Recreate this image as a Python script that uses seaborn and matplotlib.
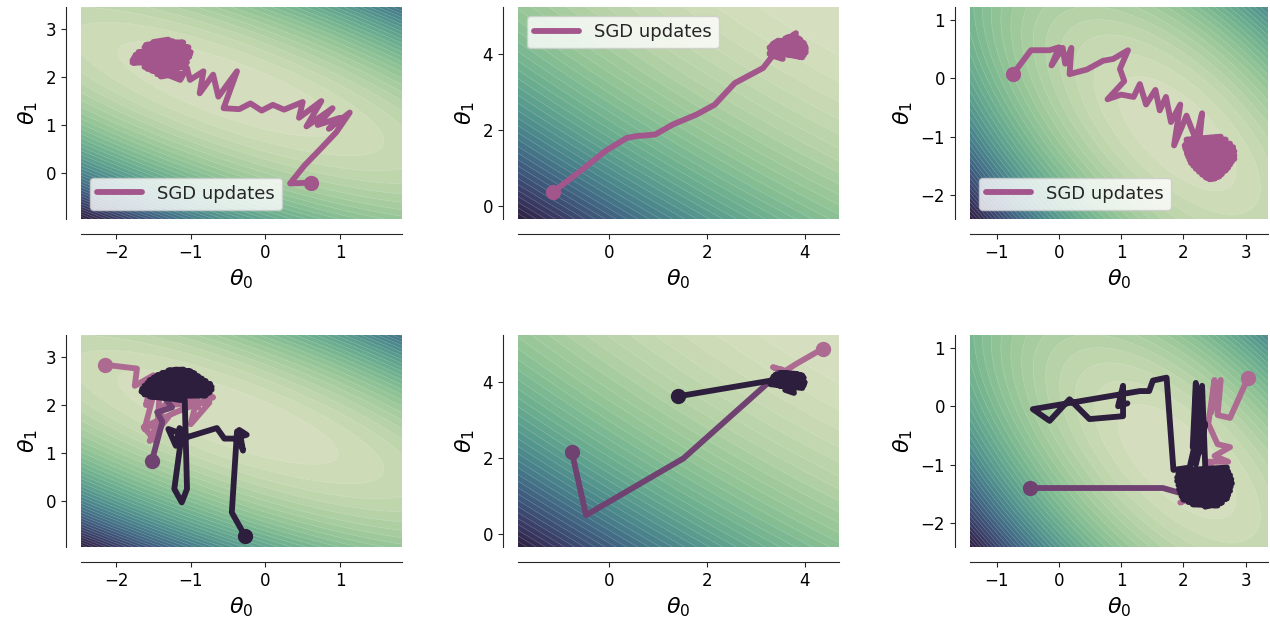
import numpy as np
import matplotlib
matplotlib.use("Agg")
import matplotlib.pyplot as plt
from matplotlib.colors import PowerNorm
import seaborn as sns

sns.set_style("ticks")

# axis ranges of each column (theta0, theta1)
xlims = [(-2.47, 1.83), (-1.86, 4.70), (-1.43, 3.36)]
ylims = [(-0.96, 3.46), (-0.35, 5.25), (-2.41, 1.22)]
xticks = [[-2, -1, 0, 1], [0, 2, 4], [-1, 0, 1, 2, 3]]
yticks = [[0, 1, 2, 3], [0, 2, 4], [-2, -1, 0, 1]]

# loss bowl of each column: centre, slope of long axis, stretch of short axis
bowl_centers = [(-0.50, 1.75), (5.00, 5.60), (1.90, -0.95)]
bowl_slopes = [-0.60, -0.75, -1.05]
bowl_ratios = [10.0, 10.0, 5.0]
bowl_gamma = [1.0, 1.2, 1.0]

# top row: one SGD run per column
sgd_top_left = [(0.61, -0.20), (0.33, -0.22), (0.52, 0.15), (0.75, 0.52), (0.95, 0.85),
                (1.13, 1.26), (0.85, 0.92), (1.00, 1.15), (0.70, 1.00), (0.90, 1.35),
                (0.55, 0.97), (0.75, 1.50), (0.45, 1.15), (0.50, 1.48), (0.25, 1.32),
                (0.10, 1.42), (-0.05, 1.30), (-0.20, 1.45), (-0.35, 1.33), (-0.56, 1.35),
                (-0.38, 2.12), (-0.63, 1.59), (-0.70, 2.05), (-0.88, 1.66), (-0.83, 2.12),
                (-1.01, 1.94), (-1.05, 2.19), (-1.14, 1.94),
                (-1.30, 2.04), (-1.45, 2.06), (-1.20, 2.12), (-1.52, 2.13), (-1.10, 2.22),
                (-1.62, 2.21), (-1.05, 2.31), (-1.78, 2.30), (-1.02, 2.42), (-1.76, 2.40),
                (-1.00, 2.52), (-1.70, 2.52), (-1.03, 2.62), (-1.62, 2.62), (-1.10, 2.72),
                (-1.50, 2.73), (-1.30, 2.78), (-1.40, 2.50), (-1.20, 2.35), (-1.55, 2.30),
                (-1.35, 2.60), (-1.25, 2.75), (-1.60, 2.67), (-1.05, 2.57), (-1.74, 2.46),
                (-1.01, 2.47), (-1.78, 2.35), (-1.07, 2.27), (-1.58, 2.17), (-1.15, 2.08),
                (-1.40, 2.01)]
sgd_top_mid = [(-1.15, 0.36), (-0.60, 0.90), (-0.08, 1.44), (0.36, 1.79), (0.56, 1.84),
               (0.94, 1.88), (1.31, 2.15), (1.79, 2.41), (2.16, 2.67), (2.57, 3.24),
               (3.15, 3.64), (3.39, 4.04),
               (3.30, 3.98), (3.55, 3.88), (3.30, 4.08), (3.95, 3.92), (3.28, 4.18),
               (4.02, 4.05), (3.35, 4.28), (4.02, 4.18), (3.45, 4.36), (3.98, 4.30),
               (3.60, 4.42), (3.90, 4.40), (3.75, 4.50), (3.82, 4.56), (3.70, 4.20),
               (3.50, 4.10), (3.28, 4.02), (3.98, 3.98), (3.30, 4.14), (4.02, 4.12),
               (3.32, 4.23), (4.00, 4.24), (3.40, 4.32), (3.92, 4.36), (3.65, 4.45),
               (3.80, 4.48)]
sgd_top_right = [(-0.74, 0.07), (-0.45, 0.48), (-0.15, 0.48), (0.00, 0.53), (-0.12, 0.22),
                 (0.06, 0.52), (0.10, 0.25), (0.20, 0.52), (0.17, 0.07), (0.45, 0.15),
                 (0.71, 0.30), (0.87, 0.33), (1.11, 0.48), (0.98, 0.16), (1.05, -0.05),
                 (0.78, -0.36), (1.00, -0.28), (1.20, -0.32), (1.30, -0.10), (1.40, -0.45),
                 (1.55, -0.20), (1.62, -0.55), (1.72, -0.32), (1.80, -0.75), (1.95, -0.45),
                 (1.85, -1.15), (2.05, -0.64), (2.20, -1.05), (2.30, -0.60), (2.25, -1.15),
                 (2.05, -1.05), (2.60, -1.00), (2.02, -1.15), (2.75, -1.12), (2.05, -1.25),
                 (2.82, -1.25), (2.08, -1.35), (2.82, -1.38), (2.12, -1.45), (2.75, -1.48),
                 (2.20, -1.55), (2.68, -1.58), (2.30, -1.65), (2.58, -1.68), (2.42, -1.73),
                 (2.50, -1.40), (2.30, -1.30), (2.05, -1.10), (2.68, -1.05), (2.03, -1.20),
                 (2.80, -1.18), (2.06, -1.30), (2.82, -1.32), (2.10, -1.40), (2.78, -1.43),
                 (2.16, -1.50), (2.72, -1.53), (2.25, -1.60), (2.62, -1.64), (2.36, -1.70),
                 (2.50, -1.72)]

# bottom row: three runs per column (light, mid, dark)
runs_left = [
    [(-2.15, 2.84), (-1.72, 2.76), (-1.75, 2.40), (-1.50, 2.62), (-1.60, 2.00), (-1.45, 2.50),
     (-1.62, 1.50), (-1.30, 1.75), (-1.55, 1.25), (-1.35, 2.00), (-0.75, 2.05), (-1.00, 1.60),
     (-0.88, 2.37), (-0.70, 2.16), (-1.20, 1.85), (-1.63, 1.54), (-1.46, 1.22), (-1.40, 2.65),
     (-0.90, 1.95), (-1.00, 2.50)],
    [(-1.52, 0.84), (-1.38, 1.65), (-1.45, 1.85), (-1.25, 1.95), (-1.40, 2.25), (-1.15, 2.10),
     (-1.30, 2.45), (-1.20, 2.30)],
    [(-0.27, -0.74), (-0.45, -0.24), (-0.38, 1.45), (-0.30, 1.05), (-0.35, 1.48), (-0.25, 1.38),
     (-0.42, 1.30), (-0.55, 1.30), (-0.65, 1.52), (-1.05, 1.33), (-1.15, 1.52), (-1.20, 1.15),
     (-1.30, 1.50), (-1.12, 1.40), (-1.22, 0.25), (-1.12, -0.03), (-1.05, 0.25), (-1.08, 2.10),
     (-1.55, 2.18), (-0.80, 2.20), (-1.66, 2.28), (-0.72, 2.32), (-1.62, 2.40), (-0.74, 2.44),
     (-1.55, 2.52), (-0.85, 2.55), (-1.45, 2.62), (-0.95, 2.66), (-1.30, 2.72), (-1.10, 2.74),
     (-1.20, 2.40), (-1.62, 2.22), (-0.75, 2.26), (-1.65, 2.34), (-0.72, 2.38), (-1.58, 2.46),
     (-0.80, 2.50), (-1.50, 2.57), (-0.90, 2.60), (-1.38, 2.67), (-1.00, 2.70), (-1.20, 2.74)],
]
runs_mid = [
    [(4.37, 4.89), (3.83, 4.49), (3.60, 4.30), (3.35, 4.40), (3.75, 4.20), (3.40, 4.15),
     (3.90, 4.10), (3.50, 4.35)],
    [(-0.76, 2.16), (-0.47, 0.49), (1.52, 1.99), (3.35, 4.10), (3.60, 3.95), (3.45, 4.25),
     (3.80, 4.05), (3.55, 4.15)],
    [(1.41, 3.63), (3.42, 4.07), (3.30, 3.95), (3.95, 3.85), (3.35, 4.10), (4.00, 4.00),
     (3.40, 4.20), (3.98, 4.12), (3.55, 4.25), (3.85, 4.22), (3.60, 3.80), (3.78, 3.72),
     (3.70, 4.10), (3.50, 3.90), (3.32, 4.02), (3.98, 3.92), (3.36, 4.15), (3.95, 4.18),
     (3.50, 4.25), (3.75, 3.78)],
]
runs_right = [
    [(3.04, 0.49), (2.75, -0.20), (2.55, -0.15), (2.60, 0.45), (2.45, -0.10), (2.50, 0.45),
     (2.40, -0.30), (2.55, -0.65), (2.75, -0.70), (2.50, -0.85), (2.72, -0.95), (2.40, -0.95),
     (2.60, -1.30), (1.95, -1.65), (2.30, -1.45), (2.70, -1.55), (2.10, -1.30)],
    [(-0.47, -1.40), (1.67, -1.40), (2.00, -1.50), (2.50, -1.70), (2.70, -1.45), (2.30, -1.30),
     (2.55, -1.60), (2.05, -1.25)],
    [(2.30, -1.45), (1.95, -1.10), (2.70, -1.05), (1.90, -1.22), (2.75, -1.18), (1.92, -1.35),
     (2.78, -1.32), (1.95, -1.48), (2.75, -1.45), (2.00, -1.60), (2.70, -1.58), (2.15, -1.68),
     (2.55, -1.70), (2.30, -1.55), (1.92, -1.16), (2.72, -1.12), (1.90, -1.28), (2.77, -1.25),
     (1.93, -1.42), (2.76, -1.38), (1.97, -1.54), (2.72, -1.52), (2.08, -1.64), (2.62, -1.65),
     (2.35, -1.72), (2.35, -1.00), (2.30, 0.35), (2.25, -0.80), (2.35, -0.30),
     (2.20, -1.00), (2.20, 0.40), (2.15, -0.70), (2.28, -0.20), (2.10, -1.05), (1.84, -1.09),
     (1.73, 0.49), (1.51, 0.44), (1.45, 0.26), (1.30, 0.26), (-0.42, -0.05), (-0.15, -0.25),
     (0.17, 0.12), (0.49, -0.22), (1.03, -0.17), (1.03, 0.35), (0.95, 0.00), (1.10, 0.05)],
]

top_runs = [sgd_top_left, sgd_top_mid, sgd_top_right]
bottom_runs = [runs_left, runs_mid, runs_right]
legend_locs = ["lower left", "upper left", "lower left"]

top_color = "#a2568b"
run_colors = ["#ad6b92", "#6f4272", "#2d1e3e"]
bowl_cmap = sns.cubehelix_palette(start=.5, rot=-.75, as_cmap=True)

fig = plt.figure(figsize=(12.7, 6.22), dpi=100)
col_left = [81, 518, 970]
col_width = [321, 321, 298]
row_top = [7, 335]
row_h = 212


def draw_bowl(ax, k):
    gx = np.linspace(*xlims[k], 300)
    gy = np.linspace(*ylims[k], 300)
    X, Y = np.meshgrid(gx, gy)
    cx, cy = bowl_centers[k]
    s = bowl_slopes[k]
    n = np.hypot(1, s)
    dx, dy = X - cx, Y - cy
    along = (dx + s * dy) / n
    across = (-s * dx + dy) / n
    Z = along ** 2 + bowl_ratios[k] * across ** 2
    lev = np.linspace(Z.min(), Z.max(), 40)
    ax.contourf(X, Y, Z, levels=lev, cmap=bowl_cmap,
                norm=PowerNorm(bowl_gamma[k], vmin=Z.min(), vmax=Z.max()))
    ax.contour(X, Y, Z, levels=lev, colors="white", linewidths=0.4, alpha=0.3)
    ax.set_xlim(xlims[k])
    ax.set_ylim(ylims[k])


def draw_run(ax, pts, color, label=None):
    p = np.array(pts)
    ax.plot(p[:, 0], p[:, 1], color=color, lw=4.2, label=label,
            solid_joinstyle="round", solid_capstyle="round")
    ax.plot(p[0, 0], p[0, 1], "o", color=color, ms=10)


for r in range(2):
    for k in range(3):
        ax = fig.add_axes([col_left[k] / 1270, 1 - (row_top[r] + row_h) / 622,
                           col_width[k] / 1270, row_h / 622])
        draw_bowl(ax, k)
        if r == 0:
            draw_run(ax, top_runs[k], top_color, "SGD updates")
            ax.legend(loc=legend_locs[k], fontsize=13, handlelength=2.5)
        else:
            for pts, c in zip(bottom_runs[k], run_colors):
                draw_run(ax, pts, c)
        ax.set_xticks(xticks[k])
        ax.set_yticks(yticks[k])
        ax.set_xlabel(r"$\theta_0$", fontsize=16, color="black")
        ax.set_ylabel(r"$\theta_1$", fontsize=16, color="black")
        ax.tick_params(labelsize=12, labelcolor="black")
        sns.despine(ax=ax, offset=11)

fig.savefig("out.png", dpi=100)
